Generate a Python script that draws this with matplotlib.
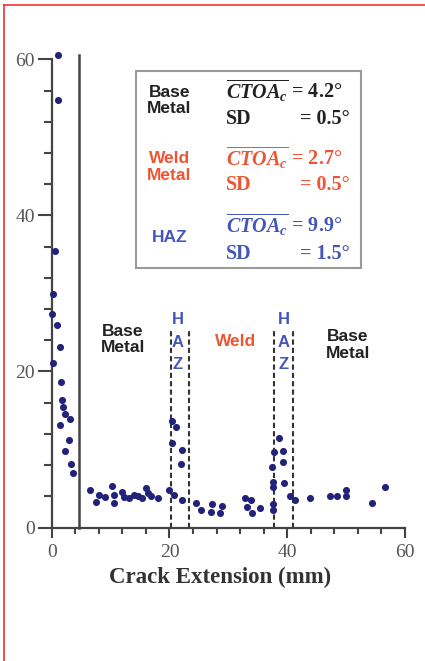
import matplotlib
matplotlib.use("Agg")
import matplotlib.pyplot as plt
from matplotlib.patches import Rectangle
from matplotlib.lines import Line2D
from matplotlib.ticker import MultipleLocator

plt.rcParams['mathtext.fontset'] = 'custom'
plt.rcParams['mathtext.it'] = 'Liberation Serif:italic:bold'
plt.rcParams['mathtext.rm'] = 'Liberation Serif:bold'
plt.rcParams['mathtext.bf'] = 'Liberation Serif:bold'

# ---- data (crack extension mm, CTOA deg) ----
crack_ext = [1.0, 1.1, 0.56, 0.27, 0.1, 0.85, 1.4, 0.17, 1.5, 1.8, 2.0, 2.2, 3.1, 1.4, 3.0, 2.3, 3.3, 3.6,
             6.5, 8.0, 7.5, 9.0, 10.3, 10.5, 10.5, 11.9, 12.2, 13.2, 13.9, 14.7, 15.3, 16.0, 16.4, 16.9, 18.1,
             20.0, 20.8, 22.1,
             20.5, 21.1, 20.5, 22.1, 21.9,
             24.5, 25.3, 27.2, 27.1, 28.9, 28.5,
             32.9, 33.8, 33.1, 34.1, 35.4,
             38.6, 37.8, 39.2, 39.2, 37.4, 37.6, 39.5, 37.6, 37.6, 37.6,
             40.5, 41.3, 43.8, 47.3, 48.5, 49.9, 49.9, 54.4, 56.6]
ctoa = [60.6, 54.8, 35.4, 29.9, 27.3, 25.9, 23.1, 21.1, 18.7, 16.3, 15.4, 14.5, 13.9, 13.1, 11.2, 9.8, 8.2, 7.0,
        4.75, 4.2, 3.25, 3.9, 5.3, 4.2, 3.2, 4.5, 3.9, 3.8, 4.2, 4.0, 3.8, 5.0, 4.4, 4.0, 3.8,
        4.75, 4.2, 3.55,
        13.6, 12.9, 10.8, 9.9, 8.2,
        3.1, 2.3, 3.0, 2.0, 2.7, 1.9,
        3.8, 3.5, 2.6, 1.8, 2.5,
        11.5, 9.7, 9.8, 8.4, 7.7, 5.8, 5.7, 5.2, 3.0, 2.3,
        4.1, 3.5, 3.8, 4.1, 4.0, 4.75, 4.0, 3.2, 5.2]

x_ticks = [0, 20, 40, 60]
y_ticks = [0, 20, 40, 60]
region_bounds = [4.7, 20.2, 23.3, 37.8, 41.0]

stats_labels = ["Base\nMetal", "Weld\nMetal", "HAZ"]
stats_mean = ["4.2", "2.7", "9.9"]
stats_sd = ["0.5", "0.5", "1.5"]
stats_colors = ["#222222", "#ee5533", "#4455bb"]

fig = plt.figure(figsize=(4.25, 6.61), dpi=100)
ax = fig.add_axes([51.7/425, 133.5/661, (405-51.7)/425, (527.5-59.3)/661])

ax.scatter(crack_ext, ctoa, s=26, color="#22227a", zorder=3, clip_on=False, linewidths=0)

ax.set_xlim(0, 60)
ax.set_ylim(0, 60)
ax.set_xticks(x_ticks)
ax.set_yticks(y_ticks)
ax.xaxis.set_minor_locator(MultipleLocator(4))
ax.yaxis.set_minor_locator(MultipleLocator(4))
for s in ['top', 'right']:
    ax.spines[s].set_visible(False)
for s in ['left', 'bottom']:
    ax.spines[s].set_linewidth(1.6)
    ax.spines[s].set_color('#444444')
ax.tick_params(axis='y', which='major', length=10, width=1.5, color='#444444', pad=2)
ax.tick_params(axis='y', which='minor', length=6, width=1.5, color='#444444')
ax.tick_params(axis='x', which='major', length=7, width=1.5, color='#444444', pad=5)
ax.tick_params(axis='x', which='minor', length=4.5, width=1.5, color='#444444')
for lab in ax.get_xticklabels() + ax.get_yticklabels():
    lab.set_fontfamily('Liberation Serif')
    lab.set_fontsize(14)
    lab.set_color('#555555')
ax.set_xlabel("Crack Extension (mm)", fontfamily='Liberation Serif', fontweight='bold',
              fontsize=16.5, color='#333333', labelpad=6)
ax.xaxis.set_label_coords(0.476, -0.085)

# region boundaries
ax.plot([region_bounds[0]] * 2, [0, 60.6], color='#444444', lw=1.8, clip_on=False, zorder=2)
for xb in region_bounds[1:]:
    ax.plot([xb, xb], [0, 25.2], color='#333333', lw=1.5, ls=(0, (2.5, 1.5)), zorder=2)

# region labels
lab_kw = dict(ha='center', va='center', fontsize=12.5, fontweight='bold', family='Liberation Sans')
ax.text(12.1, 24.1, "Base\nMetal", color='#222222', linespacing=1.1, **lab_kw)
ax.text(31.3, 23.8, "Weld", color='#ee5533', **lab_kw)
ax.text(50.3, 23.4, "Base\nMetal", color='#222222', linespacing=1.1, **lab_kw)
for xc in [21.4, 39.4]:
    for ch, yc in zip("HAZ", [26.6, 23.7, 20.9]):
        ax.text(xc, yc, ch, color='#4455bb', **{**lab_kw, 'fontsize': 12})

# stats box
ax.add_patch(Rectangle((14.3, 33.3), 52.5 - 14.3, 58.5 - 33.3, fill=True, facecolor='white',
                       edgecolor='#999999', lw=1.5, zorder=1, clip_on=False))
lab_y = [54.7, 46.2, 37.1]
mean_y = [56.0, 47.4, 38.8]
sd_y = [52.4, 43.9, 35.1]
for i in range(3):
    c = stats_colors[i]
    ax.text(20.0, lab_y[i], stats_labels[i], ha='center', va='center', fontsize=12.5,
            fontweight='bold', color=c, linespacing=1.1, family='Liberation Sans')
    ax.text(29.6, mean_y[i], r'$\overline{CTOA_c}$' + " = " + stats_mean[i] + "°",
            ha='left', va='center', fontsize=14.5, color=c,
            family='Liberation Serif', fontweight='bold')
    ax.text(29.6, sd_y[i], "SD", ha='left', va='center', fontsize=14.5,
            color=c, family='Liberation Serif', fontweight='bold')
    ax.text(50.6, sd_y[i], "= " + stats_sd[i] + "°", ha='right', va='center', fontsize=14.5,
            color=c, family='Liberation Serif', fontweight='bold')

# red frame (top and left edges)
fig.add_artist(Line2D([4/425, 1], [1 - 5/661] * 2, color='#ee3333', lw=1.2))
fig.add_artist(Line2D([4/425] * 2, [0, 1 - 5/661], color='#ee3333', lw=1.2))

fig.savefig("out.png", dpi=100)
